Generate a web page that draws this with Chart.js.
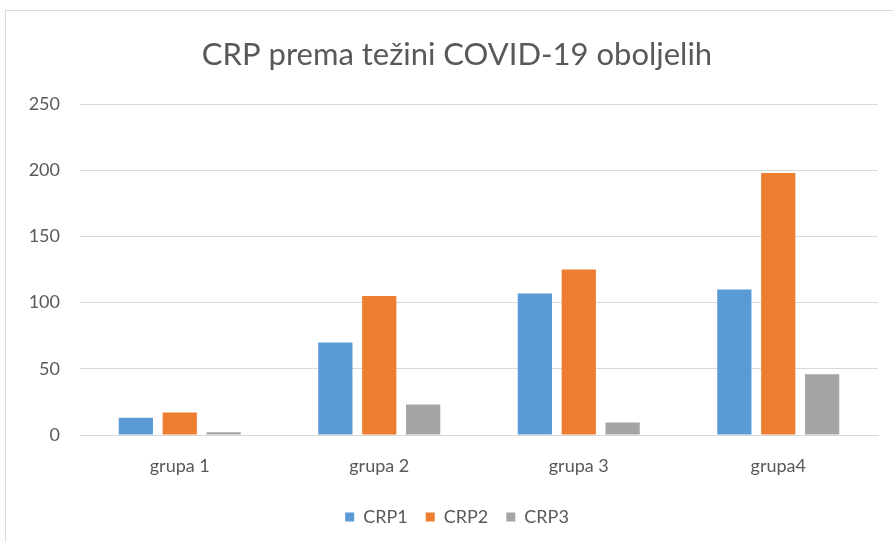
<!DOCTYPE html>
<html>
<head>
<meta charset="utf-8">
<script src="https://cdn.jsdelivr.net/npm/chart.js@4"></script>
<style>
  html, body { margin: 0; padding: 0; background: #fff; overflow: hidden; }
  #box {
    position: absolute; left: 5px; top: 10px;
    width: 920px; height: 560px;
    border: 1px solid #d9d9d9; box-sizing: border-box;
  }
  #crpChart { position: absolute; left: 0; top: 0; display: block; }
</style>
</head>
<body>
<div id="box"><canvas id="crpChart" width="902" height="525"></canvas></div>
<script>
let groupLabels = ["grupa 1", "grupa 2", "grupa 3", "grupa4"];

let crp1 = [13, 70, 107, 110];
let crp2 = [17, 105, 125, 198];
let crp3 = [2, 23, 9.5, 46];

let yTicks = [0, 50, 100, 150, 200, 250];

let seriesColors = ["#5B9BD5", "#ED7D31", "#A5A5A5"];

let textColor = "#595959";
let gridColor = "#d9d9d9";

/////////// CRP GRAPH /////////////

let crpData = {
    labels: groupLabels,
    datasets: [
        { label: "CRP1", data: crp1, backgroundColor: seriesColors[0] },
        { label: "CRP2", data: crp2, backgroundColor: seriesColors[1] },
        { label: "CRP3", data: crp3, backgroundColor: seriesColors[2] },
    ],
};

// title and legend centred on the whole canvas, not just the padded area
let centerBoxes = {
    id: "centerBoxes",
    afterLayout(chart) {
        [chart.titleBlock, chart.legend].forEach((b) => {
            if (!b) return;
            b.left = 0;
            b.right = chart.width;
            b.width = chart.width;
        });
    },
};

let crpOptions = {
    responsive: false,
    animation: false,
    categoryPercentage: 0.66,
    barPercentage: 0.78,
    layout: {
        padding: { left: 10, right: 30, top: 0, bottom: 0 },
    },
    scales: {
        x: {
            grid: { display: false },
            border: { display: true, color: gridColor, width: 1 },
            ticks: {
                color: textColor,
                font: { family: "Lato", size: 18 },
                padding: 12,
            },
            afterFit: (axis) => {
                axis.height = 55; // room under the labels, legend sits lower
            },
        },
        y: {
            min: 0,
            max: 250,
            afterBuildTicks: (axis) => {
                axis.ticks = yTicks.map((v) => ({ value: v }));
            },
            afterFit: (axis) => {
                axis.width = 64;
            },
            border: { display: false },
            grid: {
                color: gridColor,
                lineWidth: 1,
                drawTicks: false,
            },
            ticks: {
                color: textColor,
                font: { family: "Lato", size: 18 },
                padding: 20,
            },
        },
    },
    plugins: {
        title: {
            display: true,
            text: "CRP prema težini COVID-19 oboljelih",
            color: textColor,
            font: { family: "Lato", size: 31, weight: "normal" },
            padding: { top: 25, bottom: 31 },
        },
        legend: {
            position: "bottom",
            labels: {
                color: textColor,
                font: { family: "Lato", size: 18 },
                boxWidth: 9,
                boxHeight: 9,
                padding: 18,
            },
        },
        tooltip: { enabled: false },
    },
};

let crpGraph = new Chart(document.getElementById("crpChart"), {
    type: "bar",
    plugins: [centerBoxes],
    data: crpData,
    options: crpOptions,
});
</script>
</body>
</html>
